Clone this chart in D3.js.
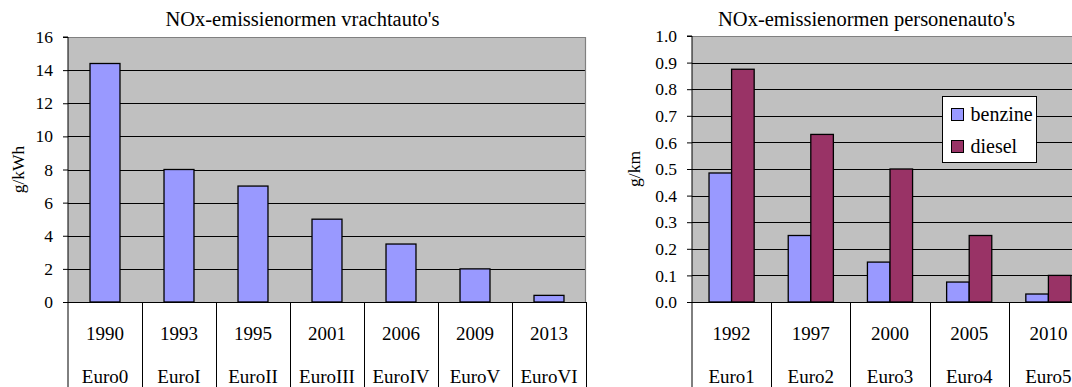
<!DOCTYPE html>
<html><head><meta charset="utf-8">
<script src="https://cdn.jsdelivr.net/npm/d3@7"></script>
<style>
html,body{margin:0;padding:0;background:#fff;}
svg{display:block;}
</style></head>
<body>
<svg id="c" width="1072" height="387"></svg>
<script>
// ---- data: trucks (left chart) ----
const truckYears = ["1990","1993","1995","2001","2006","2009","2013"];
const truckNorms = ["Euro0","EuroI","EuroII","EuroIII","EuroIV","EuroV","EuroVI"];
const truckNOx = [14.4, 8.0, 7.0, 5.0, 3.5, 2.0, 0.4];
const truckTicks = [0,2,4,6,8,10,12,14,16];

// ---- data: passenger cars (right chart) ----
const carYears = ["1992","1997","2000","2005","2010"];
const carNorms = ["Euro1","Euro2","Euro3","Euro4","Euro5"];
const carSeries = ["benzine","diesel"];
const benzine = [0.485, 0.25, 0.15, 0.075, 0.03];
const diesel = [0.875, 0.63, 0.50, 0.25, 0.10];
const carTicks = [0,0.1,0.2,0.3,0.4,0.5,0.6,0.7,0.8,0.9,1.0];

const FONT = "Liberation Serif";
const colors = {benzine:"#9999FF", diesel:"#993366"};
const svg = d3.select("#c");
svg.append("rect").attr("width",1072).attr("height",387).attr("fill","#fff");

function drawChart(cfg){
  const g = svg.append("g");
  const {x0,x1,y0,y1,bottom} = cfg;
  const y = d3.scaleLinear().domain(cfg.yDomain).range([y1,y0]);
  const xc = d3.scaleBand().domain(cfg.cats).range([x0,x1]).padding(0);
  g.append("rect").attr("x",x0).attr("y",y0).attr("width",x1-x0).attr("height",y1-y0)
    .attr("fill","#C0C0C0");
  g.selectAll(".grid").data(cfg.ticks.slice(1,-1)).join("line")
    .attr("x1",x0).attr("x2",x1).attr("y1",d=>Math.round(y(d))+0.5).attr("y2",d=>Math.round(y(d))+0.5)
    .attr("stroke","#000").attr("stroke-width",1);
  g.append("path").attr("d",`M${x0},${y0+0.5}H${x1-0.5}V${y1}`)
    .attr("fill","none").attr("stroke","#808080").attr("stroke-width",1.2);
  cfg.drawBars(g, xc, y);
  const ax = d3.axisLeft(y).tickValues(cfg.ticks).tickSize(5).tickPadding(10)
    .tickFormat(cfg.fmt);
  const ag = g.append("g").attr("transform",`translate(${x0},0)`).call(ax)
    .attr("font-family",FONT);
  ag.select(".domain").attr("stroke","#000").attr("d",`M-5,${y0}H0V${bottom}`);
  ag.selectAll(".tick line").attr("stroke","#000");
  ag.selectAll(".tick text").attr("font-size",17.5).attr("fill","#000");
  g.append("line").attr("x1",x0).attr("x2",x1).attr("y1",y1+0.5).attr("y2",y1+0.5)
    .attr("stroke","#000").attr("stroke-width",1);
  g.selectAll(".div").data(cfg.cats).join("line")
    .attr("x1",d=>Math.round(xc(d)+xc.bandwidth())+0.5).attr("x2",d=>Math.round(xc(d)+xc.bandwidth())+0.5)
    .attr("y1",y1).attr("y2",bottom).attr("stroke","#000");
  g.selectAll(".yl").data(cfg.cats).join("text")
    .attr("x",d=>xc(d)+xc.bandwidth()/2).attr("y",y1+38)
    .attr("text-anchor","middle").attr("font-size",19).text(d=>d);
  g.selectAll(".nl").data(cfg.norms).join("text")
    .attr("x",(d,i)=>xc(cfg.cats[i])+xc.bandwidth()/2).attr("y",y1+81)
    .attr("text-anchor","middle").attr("font-size",19).text(d=>d);
  g.append("text").attr("x",cfg.titleX).attr("y",26).attr("text-anchor","middle")
    .attr("font-size",20.5).text(cfg.title);
  g.append("text").attr("transform",`translate(${cfg.ylabX},${(y0+y1)/2}) rotate(-90)`)
    .attr("text-anchor","middle").attr("font-size",17.5).text(cfg.ylab);
  return {xc,y,g};
}

drawChart({
  x0:68, x1:586, y0:37, y1:302, bottom:387,
  yDomain:[0,16], ticks:truckTicks, fmt:d3.format("d"),
  cats:truckYears, norms:truckNorms,
  title:"NOx-emissienormen vrachtauto's", titleX:302.5,
  ylab:"g/kWh", ylabX:24,
  drawBars:(g,xc,y)=>{
    const bw = xc.bandwidth()*0.405;
    g.selectAll(".bar").data(truckNOx).join("rect")
      .attr("x",(d,i)=>xc(truckYears[i])+(xc.bandwidth()-bw)/2)
      .attr("y",d=>y(d)).attr("width",bw).attr("height",d=>y(0)-y(d))
      .attr("fill",colors.benzine).attr("stroke","#000").attr("stroke-width",1.3);
  }
});

drawChart({
  x0:692, x1:1088, y0:36, y1:302, bottom:387,
  yDomain:[0,1], ticks:carTicks, fmt:d3.format(".1f"),
  cats:carYears, norms:carNorms,
  title:"NOx-emissienormen personenauto's", titleX:866.5,
  ylab:"g/km", ylabX:640,
  drawBars:(g,xc,y)=>{
    const grp = xc.bandwidth()*0.57;
    const xs = d3.scaleBand().domain(carSeries).range([0,grp]);
    const rows = carYears.map((c,i)=>({c, vals:[{k:"benzine",v:benzine[i]},{k:"diesel",v:diesel[i]}]}));
    g.selectAll(".grp").data(rows).join("g")
      .attr("transform",d=>`translate(${xc(d.c)+(xc.bandwidth()-grp)/2},0)`)
      .selectAll("rect").data(d=>d.vals).join("rect")
      .attr("x",d=>xs(d.k)).attr("width",xs.bandwidth())
      .attr("y",d=>y(d.v)).attr("height",d=>y(0)-y(d.v))
      .attr("fill",d=>colors[d.k]).attr("stroke","#000").attr("stroke-width",1.3);
  }
});

const lg = svg.append("g").attr("transform","translate(942.5,96.5)");
lg.append("rect").attr("width",94).attr("height",66).attr("fill","#fff").attr("stroke","#000");
lg.selectAll(".li").data(carSeries).join("g")
  .attr("transform",(d,i)=>`translate(9,${12+i*32})`)
  .each(function(d){
    const s = d3.select(this);
    s.append("rect").attr("width",12).attr("height",12).attr("fill",colors[d]).attr("stroke","#000");
    s.append("text").attr("x",19).attr("y",12).attr("font-size",20).text(d);
  });

svg.selectAll("text").attr("font-family",FONT).attr("fill","#000");
</script>
</body></html>
